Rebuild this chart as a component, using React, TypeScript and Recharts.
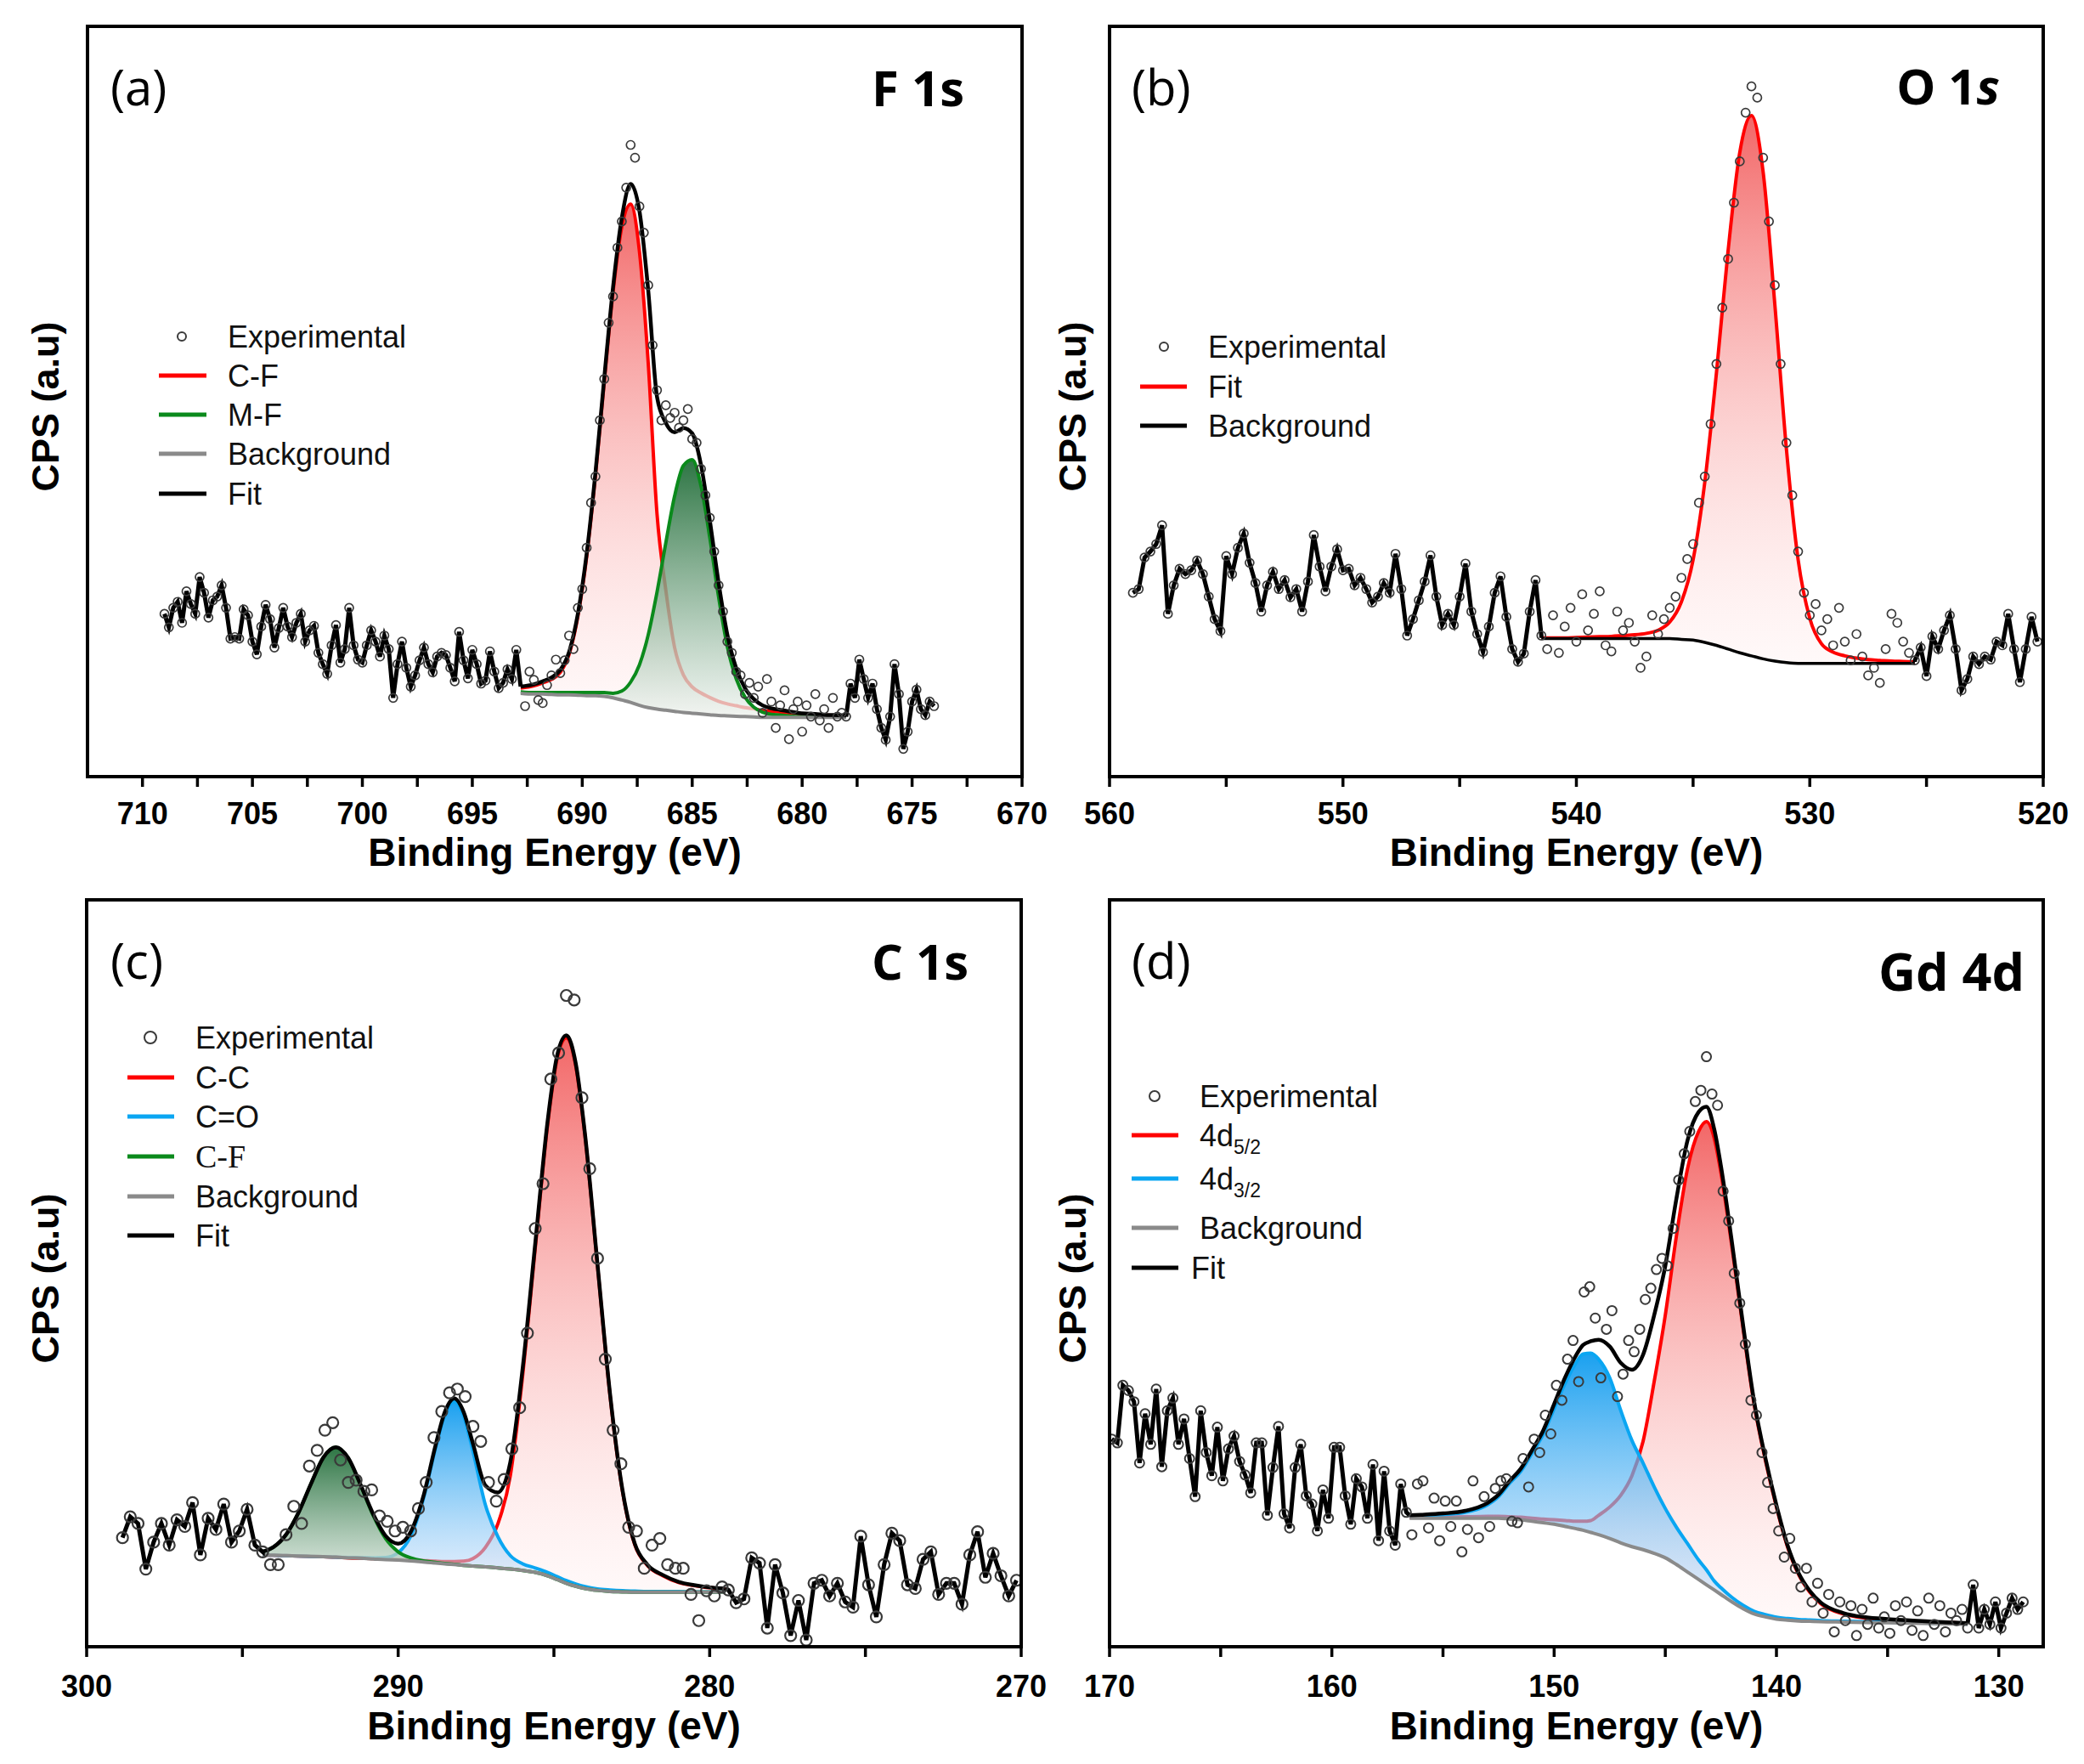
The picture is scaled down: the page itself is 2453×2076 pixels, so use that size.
import { Area, ComposedChart, Line, XAxis, YAxis } from "recharts";

const SANS = "'Liberation Sans', Arial, Helvetica, sans-serif";
const OPEN = "'Open Sans', 'Noto Sans', sans-serif";
const SERIF = "'Liberation Serif', 'Times New Roman', serif";

const RED = "#ff0000";
const GREEN = "#0b8a1c";
const BLUE = "#0aa6f2";
const GREY = "#8a8a8a";
const DOT = "#3a3a3a";

// ---------- (a) F 1s ----------
const aTicks = [710, 707.5, 705, 702.5, 700, 697.5, 695, 692.5, 690, 687.5, 685, 682.5, 680, 677.5, 675, 672.5, 670];
const aMajor = [710, 705, 700, 695, 690, 685, 680, 675, 670];
const aStep = 0.2;
const aLeftStart = 709.0;
const aLeft = [
  21.7, 19.9, 22.5, 23.3, 20.5, 24.7, 23.0, 21.7, 26.6, 24.5,
  21.2, 23.5, 24.0, 25.5, 22.5, 18.4, 18.6, 18.4, 22.3, 21.5,
  18.0, 16.3, 20.0, 22.9, 21.0, 17.2, 19.8, 22.5, 20.0, 18.6,
  20.5, 21.7, 18.0, 19.5, 20.1, 16.5, 15.0, 13.7, 17.5, 20.2,
  15.2, 17.0, 22.5, 17.5, 15.6, 15.2, 17.5, 19.5, 18.0, 16.0,
  18.8, 17.0, 10.5, 15.0, 18.0, 14.5, 12.0, 13.5, 15.5, 17.2,
  15.0, 13.9, 16.0, 16.5, 16.2, 14.5, 12.7, 19.3, 15.5, 13.1,
  16.9, 15.0, 12.4, 12.8, 16.7, 14.0, 11.8, 12.5, 14.3, 13.0,
  16.9,
];
const aMidStart = 692.6;
const aMid = [
  9.4, 14.0, 12.9, 10.2, 9.8, 12.2, 13.5, 15.6, 13.8, 15.5,
  18.8, 17.0, 22.5, 25.0, 30.5, 36.5, 40.0, 47.5, 53.0, 60.5,
  64.0, 70.5, 74.0, 78.5, 84.2, 82.5, 76.0, 72.5, 65.5, 57.5,
  51.5, 47.5, 49.5, 47.8, 48.5, 46.5, 47.5, 49.0, 45.0, 44.5,
  41.0, 37.5, 34.5, 30.0, 25.5, 22.0, 18.0, 16.5, 14.0, 13.5,
  11.0, 12.5, 10.5, 12.0, 8.5, 13.0, 10.0, 6.5, 9.5, 11.5,
  5.0, 9.0, 10.0, 6.0, 9.5, 8.0, 11.0, 7.5, 9.0, 6.5,
  10.5, 8.0, 8.5,
];
const aRightStart = 678.0;
const aRight = [8.0, 12.4, 10.5, 15.6, 13.0, 10.5, 12.4, 9.0, 6.5, 4.9, 8.0, 15.0, 11.0, 3.7, 6.0, 10.0, 11.6, 9.0, 8.2, 10.0, 9.4];
const aFitX = [692.8, 692.2, 691.8, 691.4, 691.0, 690.6, 690.2, 689.8, 689.4, 689.0, 688.6, 688.2, 687.8, 687.4, 687.0, 686.6, 686.2, 685.8, 685.4, 685.0, 684.6, 684.2, 683.8, 683.4, 683.0, 682.6, 682.2, 681.8, 681.4, 681.0, 680.6, 680.2, 679.8, 679.4, 679.0, 678.6, 678.0];
const aBg = [11.1, 11.0, 11.0, 10.95, 10.9, 10.9, 10.85, 10.8, 10.8, 10.7, 10.5, 10.2, 9.9, 9.5, 9.2, 9.0, 8.85, 8.7, 8.55, 8.45, 8.35, 8.25, 8.15, 8.1, 8.05, 8.0, 7.95, 7.9, 7.9, 7.9, 7.9, 7.9, 7.9, 7.9, 7.9, 7.9, 7.9];
const aCF = [0.7, 1.1, 1.5, 2.0, 3.0, 5.4, 10.5, 18.5, 29.3, 41.9, 54.1, 63.1, 66.4, 60.5, 45.9, 26.0, 16.0, 8.5, 5.0, 3.5, 2.8, 2.3, 1.9, 1.6, 1.4, 1.2, 1.1, 0.9, 0.8, 0.7, 0.6, 0.5, 0.4, 0.35, 0.3, 0.25, 0.2];
const aMF = [0.2, 0.2, 0.2, 0.25, 0.3, 0.3, 0.35, 0.4, 0.4, 0.5, 0.6, 1.2, 2.7, 5.4, 9.7, 15.6, 22.3, 28.7, 32.9, 33.8, 30.4, 23.6, 15.8, 9.2, 5.0, 2.6, 1.3, 0.7, 0.4, 0.3, 0.2, 0.1, 0.1, 0.1, 0.05, 0.05, 0.05];

// ---------- (b) O 1s ----------
const bTicks = [560, 555, 550, 545, 540, 535, 530, 525, 520];
const bMajor = [560, 550, 540, 530, 520];
const bStep = 0.25;
const bLeftStart = 559.0;
const bLeft = [
  24.5, 25.0, 29.2, 30.0, 31.0, 33.5, 21.7, 25.5, 27.7, 27.0,
  27.5, 28.8, 27.0, 24.0, 21.0, 19.4, 29.4, 27.0, 30.5, 32.4,
  28.5, 25.8, 22.0, 25.5, 27.3, 25.0, 26.2, 23.9, 25.0, 22.0,
  26.0, 32.2, 28.0, 24.7, 28.0, 30.3, 27.5, 27.7, 25.5, 26.5,
  25.0, 23.2, 24.0, 25.8, 24.5, 29.7, 25.0, 18.8, 21.0, 23.5,
  26.0, 29.5, 24.0, 20.2, 21.7, 20.2, 24.0, 28.4, 22.0, 19.0,
  16.6, 20.0, 24.5, 26.7, 21.3, 17.0, 15.3, 16.4, 22.0, 26.2,
  18.8,
];
const bMidStart = 541.25;
const bMid = [
  17.0, 21.5, 16.5, 20.0, 22.5, 18.0,
  24.3, 19.5, 21.7, 24.7, 17.5, 16.7, 22.0, 19.5,
  20.5, 18.0, 14.5, 16.0, 21.5, 19.0, 21.0, 22.5,
  24.0, 26.5, 29.0, 31.0, 36.5, 40.0, 47.0, 55.0,
  62.5, 69.0, 76.5, 82.0, 88.5, 92.0, 90.5, 82.5,
  74.0, 65.5, 55.0, 44.5, 37.5, 30.0, 24.5, 21.5,
  23.0, 19.5, 21.0, 17.5, 22.5, 18.0, 15.5, 19.0,
  16.0, 13.5, 14.5, 12.5, 17.0, 21.7, 20.5, 18.0,
  16.5,
];
const bRightStart = 525.5;
const bRight = [15.5, 17.2, 13.4, 18.7, 17.0, 19.5, 21.5, 17.0, 11.5, 13.0, 16.0, 15.0, 16.0, 15.6, 18.0, 17.5, 21.7, 17.0, 12.6, 17.0, 21.3, 18.0];
const bFitX = [541.5, 541.0, 540.5, 540.0, 539.5, 539.0, 538.5, 538.0, 537.5, 537.0, 536.5, 536.0, 535.5, 535.0, 534.5, 534.0, 533.5, 533.0, 532.5, 532.0, 531.5, 531.0, 530.5, 530.0, 529.5, 529.0, 528.5, 528.0, 527.5, 527.0, 526.5, 526.0, 525.5];
const bBg = [18.4, 18.4, 18.4, 18.4, 18.4, 18.4, 18.4, 18.4, 18.4, 18.4, 18.4, 18.4, 18.3, 18.2, 17.9, 17.5, 17.0, 16.5, 16.1, 15.7, 15.4, 15.2, 15.1, 15.1, 15.1, 15.1, 15.1, 15.1, 15.1, 15.1, 15.1, 15.1, 15.1];
const bPeak = [0.1, 0.1, 0.1, 0.15, 0.2, 0.25, 0.3, 0.4, 0.5, 0.7, 1.1, 2.2, 5.0, 10.7, 21.3, 36.3, 53.1, 66.7, 72.0, 64.9, 47.6, 28.4, 13.8, 6.0, 2.6, 1.5, 1.0, 0.7, 0.5, 0.4, 0.3, 0.25, 0.2];

// ---------- (c) C 1s ----------
const cTicks = [300, 295, 290, 285, 280, 275, 270];
const cMajor = [300, 290, 280, 270];
const cStep = 0.25;
const cLeftStart = 298.85;
const cLeft = [14.6, 17.4, 16.5, 10.4, 14.0, 16.5, 13.6, 17.0, 16.1, 19.3, 12.3, 17.2, 15.7, 19.1, 14.0, 15.5, 18.4, 13.6, 12.7];
const cMidStart = 294.1;
const cMid = [
  11.0, 11.0, 15.0, 18.8, 16.5, 24.2, 26.3, 29.0, 30.0, 25.0,
  22.0, 22.3, 20.8, 21.0, 17.5, 16.8, 15.5, 16.0, 15.5, 18.5,
  22.0, 28.0, 31.5, 34.0, 34.5, 33.5, 29.5, 27.5, 22.0, 19.5,
  22.4, 26.5, 32.0, 42.0, 56.0, 62.0, 76.0, 79.5, 87.2, 86.6,
  73.5, 64.0, 52.0, 38.5, 29.0, 24.5, 16.0, 15.5, 10.5, 13.6,
  14.5, 11.0, 10.5, 10.5, 7.0, 3.5, 7.5, 6.8, 8.0,
];
const cRightStart = 279.4;
const cRight = [7.6, 5.9, 6.4, 11.9, 11.2, 2.5, 11.0, 7.2, 1.5, 6.2, 0.9, 8.5, 8.9, 6.8, 8.5, 6.0, 5.3, 14.8, 8.3, 4.0, 11.0, 15.2, 14.2, 8.3, 7.8, 11.7, 12.7, 7.0, 8.5, 8.5, 5.7, 12.3, 15.4, 9.3, 12.5, 9.5, 6.8, 8.9];
const cFitX = [294.35, 294.0, 293.6, 293.2, 292.8, 292.4, 292.0, 291.6, 291.2, 290.8, 290.4, 290.0, 289.6, 289.2, 288.8, 288.5, 288.2, 287.9, 287.6, 287.2, 286.8, 286.4, 286.0, 285.6, 285.2, 284.9, 284.6, 284.3, 284.0, 283.6, 283.2, 282.8, 282.4, 282.0, 281.5, 281.0, 280.5, 280.0, 279.5];
const cBg = [12.3, 12.25, 12.2, 12.15, 12.1, 12.05, 12.0, 11.9, 11.85, 11.75, 11.65, 11.6, 11.5, 11.35, 11.2, 11.1, 11.0, 10.9, 10.8, 10.7, 10.55, 10.4, 10.2, 9.95, 9.5, 9.0, 8.5, 8.1, 7.8, 7.55, 7.4, 7.35, 7.3, 7.3, 7.3, 7.3, 7.3, 7.3, 7.3];
const cCC = [0, 0, 0, 0, 0, 0, 0, 0, 0, 0.05, 0.08, 0.1, 0.15, 0.2, 0.25, 0.3, 0.4, 0.55, 1.0, 2.6, 5.9, 12.5, 26.3, 43.4, 60.5, 69.7, 73.0, 69.7, 60.5, 43.4, 26.3, 13.5, 6.3, 3.6, 2.2, 1.3, 0.9, 0.6, 0.45];
const cCO = [0, 0, 0, 0, 0, 0, 0, 0.05, 0.08, 0.15, 0.3, 1.0, 3.3, 8.3, 15.4, 20.0, 21.8, 20.0, 15.4, 8.3, 4.2, 1.8, 0.9, 0.6, 0.45, 0.4, 0.35, 0.3, 0.25, 0.2, 0.2, 0.15, 0.15, 0.1, 0.1, 0.1, 0.05, 0.05, 0.05];
const cCF = [0.42, 1.1, 2.8, 5.8, 9.7, 13.3, 14.7, 13.3, 9.7, 5.8, 2.8, 1.1, 0.4, 0.15, 0.1, 0.05, 0.05, 0, 0, 0, 0, 0, 0, 0, 0, 0, 0, 0, 0, 0, 0, 0, 0, 0, 0, 0, 0, 0, 0];

// ---------- (d) Gd 4d ----------
const dTicks = [170, 165, 160, 155, 150, 145, 140, 135, 130];
const dMajor = [170, 160, 150, 140, 130];
const dStep = 0.25;
const dLeftStart = 169.9;
const dLeft = [
  27.8, 27.3, 35.0, 34.3, 32.8, 24.6, 31.2, 27.1, 34.5, 24.1,
  31.6, 33.3, 27.1, 30.5, 25.2, 20.1, 31.6, 26.0, 22.9, 29.4,
  22.2, 26.5, 28.2, 24.8, 23.0, 20.6, 27.3, 27.3, 17.6, 24.0,
  29.5, 17.8, 15.9, 24.0, 27.1, 20.2, 19.1, 15.5, 21.0, 17.2,
  26.7, 26.7, 20.2, 16.4, 22.5, 21.4, 17.2, 24.4, 14.2, 23.5,
  15.5, 13.6, 21.8, 18.0,
];
const dMidStart = 156.4;
const dMid = [
  15.0, 21.8, 22.2, 15.9, 19.9, 14.2, 19.5, 16.1, 19.5, 12.7,
  15.7, 22.2, 14.6, 20.1, 16.1, 21.2, 22.2, 22.5, 16.8, 16.6,
  25.2, 21.4, 27.8, 26.0, 31.0, 28.5, 35.0, 33.0, 38.5, 41.0,
  35.5, 47.5, 48.2, 44.0, 36.0, 42.5, 45.0, 33.5, 36.5, 41.0,
  39.5, 42.5, 46.5, 48.0, 50.5, 52.0, 51.0, 56.0, 62.5, 66.0,
  69.0, 73.0, 74.5, 79.0, 74.0, 72.5, 61.0, 57.0, 50.0, 46.0,
  40.5, 33.0, 31.0, 26.0, 22.0, 18.5, 15.5, 12.0, 14.5, 10.5,
  8.0, 10.5, 6.0, 8.5, 4.5, 7.0, 2.0, 6.0, 3.5, 5.5,
  1.5, 5.0, 3.0, 6.5, 2.5, 4.0, 1.8, 5.5, 3.5, 6.0,
  2.2, 4.8, 1.5, 6.5, 3.0, 5.5, 2.0, 4.5, 3.5, 5.0,
  2.5,
];
const dRightStart = 131.15;
const dRight = [8.3, 2.5, 5.0, 3.0, 6.0, 2.5, 4.5, 6.5, 5.0, 6.0];
const dFitX = [156.5, 156.0, 155.0, 154.0, 153.0, 152.5, 152.0, 151.5, 151.0, 150.5, 150.0, 149.5, 149.0, 148.7, 148.35, 148.0, 147.5, 147.0, 146.5, 146.0, 145.5, 145.0, 144.5, 144.0, 143.5, 143.15, 142.8, 142.5, 142.0, 141.5, 141.0, 140.5, 140.0, 139.5, 139.0, 138.5, 138.0, 137.0, 136.0, 135.0, 134.0, 133.0, 132.0, 131.4];
const dBg = [17.2, 17.2, 17.2, 17.2, 17.2, 17.2, 17.1, 17.0, 16.8, 16.6, 16.4, 16.1, 15.8, 15.6, 15.3, 15.0, 14.5, 13.9, 13.4, 13.0, 12.5, 11.9, 11.0, 10.0, 9.0, 8.3, 7.6, 7.0, 6.0, 5.1, 4.4, 4.0, 3.7, 3.55, 3.45, 3.4, 3.35, 3.3, 3.25, 3.2, 3.15, 3.1, 3.05, 3.0];
const d52 = [0.1, 0.12, 0.15, 0.2, 0.25, 0.27, 0.3, 0.35, 0.4, 0.5, 0.6, 0.8, 1.0, 1.2, 1.6, 2.6, 4.2, 6.4, 9.5, 14.5, 23.0, 32.5, 44.0, 54.0, 60.0, 62.0, 60.5, 56.5, 47.5, 37.5, 28.0, 21.0, 15.0, 9.8, 6.2, 3.9, 2.4, 1.1, 0.6, 0.4, 0.3, 0.2, 0.15, 0.1];
const d32 = [0.3, 0.35, 0.5, 0.8, 1.8, 2.9, 4.8, 6.5, 9.1, 11.8, 15.5, 19.2, 22.3, 23.6, 24.0, 23.5, 21.5, 17.7, 14.2, 11.6, 8.9, 6.6, 5.0, 3.8, 2.6, 2.0, 1.2, 0.9, 0.6, 0.45, 0.35, 0.3, 0.25, 0.22, 0.2, 0.18, 0.15, 0.12, 0.1, 0.1, 0.08, 0.06, 0.05, 0.05];

type Pt = { x: number; y: number };

function run(start: number, step: number, values: number[]): Pt[] {
  return values.map((y, i) => ({ x: Math.round((start - i * step) * 1000) / 1000, y }));
}

type Comp = { key: string; values: number[]; color: string; top: string; topOp: number; bottom: string; bottomOp: number; line: boolean };
type LegendRow = { y: number; kind: "dot" | "line"; color: string; label: string; sub?: string; serif?: boolean; dx?: number };

type PanelCfg = {
  id: string;
  frame: [number, number, number, number];
  domain: [number, number];
  ticks: number[];
  major: number[];
  tickDy: number;
  titleDy: number;
  left: Pt[];
  mid: Pt[];
  right: Pt[];
  fitX: number[];
  bg: number[];
  comps: Comp[];
  bgColor: string;
  envColor: string | null;
  dotR: number;
  dotW: number;
  tag: string;
  tagX: number;
  heading: string;
  headingItalicTail?: string;
  headingX: number;
  headingY: number;
  headingSize: number;
  yLabelX: number;
  legendX: [number, number, number, number];
  legendDotR: number;
  legend: LegendRow[];
};

const redFill = { top: "#ee3434", topOp: 0.75, bottom: "#ffd6d6", bottomOp: 0.15 };
const greenFill = { top: "#16662f", topOp: 0.9, bottom: "#eef3ef", bottomOp: 0.75 };
const blueFill = { top: "#0096ee", topOp: 0.9, bottom: "#d8e5fb", bottomOp: 0.5 };

const panels: PanelCfg[] = [
  {
    id: "a",
    frame: [103, 31, 1203, 914],
    domain: [670, 712.5],
    ticks: aTicks,
    major: aMajor,
    tickDy: 56,
    titleDy: 105,
    left: run(aLeftStart, aStep, aLeft),
    mid: run(aMidStart, aStep, aMid),
    right: run(aRightStart, aStep, aRight),
    fitX: aFitX,
    bg: aBg,
    comps: [
      { key: "cf", values: aCF, color: RED, ...redFill, line: true },
      { key: "mf", values: aMF, color: GREEN, ...greenFill, line: true },
    ],
    bgColor: GREY,
    envColor: "#000",
    dotR: 5,
    dotW: 1.7,
    tag: "(a)",
    tagX: 130,
    heading: "F 1s",
    headingX: 1135,
    headingY: 125,
    headingSize: 58,
    yLabelX: 69,
    legendX: [187, 243, 214, 268],
    legendDotR: 5,
    legend: [
      { y: 396, kind: "dot", color: DOT, label: "Experimental" },
      { y: 442, kind: "line", color: RED, label: "C-F" },
      { y: 488, kind: "line", color: GREEN, label: "M-F" },
      { y: 534, kind: "line", color: GREY, label: "Background" },
      { y: 581, kind: "line", color: "#000", label: "Fit" },
    ],
  },
  {
    id: "b",
    frame: [1306, 31, 2405, 914],
    domain: [520, 560],
    ticks: bTicks,
    major: bMajor,
    tickDy: 56,
    titleDy: 105,
    left: run(bLeftStart, bStep, bLeft),
    mid: run(bMidStart, bStep, bMid),
    right: run(bRightStart, bStep, bRight),
    fitX: bFitX,
    bg: bBg,
    comps: [{ key: "o", values: bPeak, color: RED, ...redFill, line: true }],
    bgColor: "#000",
    envColor: null,
    dotR: 5,
    dotW: 1.7,
    tag: "(b)",
    tagX: 1332,
    heading: "O 1",
    headingItalicTail: "s",
    headingX: 2354,
    headingY: 123,
    headingSize: 58,
    yLabelX: 1278,
    legendX: [1342, 1397, 1370, 1422],
    legendDotR: 5,
    legend: [
      { y: 408, kind: "dot", color: DOT, label: "Experimental" },
      { y: 455, kind: "line", color: RED, label: "Fit" },
      { y: 501, kind: "line", color: "#000", label: "Background" },
    ],
  },
  {
    id: "c",
    frame: [102, 1059, 1202, 1938],
    domain: [270, 300],
    ticks: cTicks,
    major: cMajor,
    tickDy: 59,
    titleDy: 109,
    left: run(cLeftStart, cStep, cLeft),
    mid: run(cMidStart, cStep, cMid),
    right: run(cRightStart, cStep, cRight),
    fitX: cFitX,
    bg: cBg,
    comps: [
      { key: "cc", values: cCC, color: RED, ...redFill, line: true },
      { key: "co", values: cCO, color: BLUE, ...blueFill, line: true },
      { key: "cf", values: cCF, color: GREEN, ...greenFill, line: true },
    ],
    bgColor: GREY,
    envColor: "#000",
    dotR: 6.5,
    dotW: 2.2,
    tag: "(c)",
    tagX: 130,
    heading: "C 1s",
    headingX: 1140,
    headingY: 1153,
    headingSize: 58,
    yLabelX: 69,
    legendX: [150, 205, 177, 230],
    legendDotR: 7,
    legend: [
      { y: 1221, kind: "dot", color: DOT, label: "Experimental" },
      { y: 1268, kind: "line", color: RED, label: "C-C" },
      { y: 1314, kind: "line", color: BLUE, label: "C=O" },
      { y: 1361, kind: "line", color: GREEN, label: "C-F", serif: true },
      { y: 1408, kind: "line", color: GREY, label: "Background" },
      { y: 1454, kind: "line", color: "#000", label: "Fit" },
    ],
  },
  {
    id: "d",
    frame: [1306, 1059, 2405, 1938],
    domain: [128, 170],
    ticks: dTicks,
    major: dMajor,
    tickDy: 59,
    titleDy: 109,
    left: run(dLeftStart, dStep, dLeft),
    mid: run(dMidStart, dStep, dMid),
    right: run(dRightStart, dStep, dRight),
    fitX: dFitX,
    bg: dBg,
    comps: [
      { key: "d52", values: d52, color: RED, ...redFill, line: true },
      { key: "d32", values: d32, color: BLUE, ...blueFill, line: true },
    ],
    bgColor: GREY,
    envColor: "#000",
    dotR: 5.5,
    dotW: 2,
    tag: "(d)",
    tagX: 1332,
    heading: "Gd 4d",
    headingX: 2383,
    headingY: 1166,
    headingSize: 61,
    yLabelX: 1278,
    legendX: [1332, 1387, 1359, 1412],
    legendDotR: 6,
    legend: [
      { y: 1290, kind: "dot", color: DOT, label: "Experimental" },
      { y: 1336, kind: "line", color: RED, label: "4d", sub: "5/2" },
      { y: 1387, kind: "line", color: BLUE, label: "4d", sub: "3/2" },
      { y: 1445, kind: "line", color: GREY, label: "Background" },
      { y: 1492, kind: "line", color: "#000", label: "Fit", dx: -10 },
    ],
  },
];

// chart padding around the frame: wide enough left/right for edge tick labels
const PAD_X = 60;
const PAD_Y = 12;
const AXIS_H = 80;

function renderTick(props: any, major: number[], dy: number) {
  const { x, y, payload } = props;
  const v = payload.value;
  return (
    <g>
      <line x1={x} x2={x} y1={y + 1} y2={y + 12} stroke="#000" strokeWidth={3.5} />
      {major.includes(v) ? (
        <text x={x} y={y + dy} textAnchor="middle" fontFamily={SANS} fontWeight={700} fontSize={36} fill="#000">
          {v}
        </text>
      ) : null}
    </g>
  );
}

function Panel({ cfg }: { cfg: PanelCfg }) {
  const [x0, y0, x1, y1] = cfg.frame;
  const fw = x1 - x0;
  const fh = y1 - y0;
  const env: Pt[] = cfg.fitX.map((x, i) => ({
    x,
    y: cfg.bg[i] + cfg.comps.reduce((s, c) => s + c.values[i], 0),
  }));
  const bgPts: Pt[] = cfg.fitX.map((x, i) => ({ x, y: cfg.bg[i] }));
  const exp = [...cfg.left, ...cfg.mid, ...cfg.right];
  const noiseL = [...cfg.left, env[0]];
  const noiseR = [env[env.length - 1], ...cfg.right];

  const compItems = cfg.comps.flatMap((c, k) => {
    const band = cfg.fitX.map((x, i) => ({ x, band: [cfg.bg[i], cfg.bg[i] + c.values[i]] }));
    const top = cfg.fitX.map((x, i) => ({ x, y: cfg.bg[i] + c.values[i] }));
    const items = [
      <Area
        key={`area-${c.key}`}
        data={band}
        dataKey="band"
        type="monotone"
        stroke="none"
        fill={`url(#g-${cfg.id}-${c.key})`}
        fillOpacity={1}
        isAnimationActive={false}
        activeDot={false}
        zIndex={110 + k * 2}
      />,
    ];
    if (c.line) {
      items.push(
        <Line
          key={`line-${c.key}`}
          data={top}
          dataKey="y"
          type="monotone"
          stroke={c.color}
          strokeWidth={4}
          dot={false}
          activeDot={false}
          isAnimationActive={false}
          zIndex={111 + k * 2}
        />
      );
    }
    return items;
  });

  return (
    <div style={{ position: "absolute", left: x0 - PAD_X, top: y0 - PAD_Y }}>
      <ComposedChart
        width={fw + 2 * PAD_X}
        height={fh + PAD_Y + AXIS_H}
        margin={{ top: PAD_Y, right: PAD_X, left: PAD_X, bottom: 0 }}
      >
        <defs>
          {cfg.comps.map((c) => (
            <linearGradient key={c.key} id={`g-${cfg.id}-${c.key}`} x1="0" y1="0" x2="0" y2="1">
              <stop offset="0%" stopColor={c.top} stopOpacity={c.topOp} />
              <stop offset="100%" stopColor={c.bottom} stopOpacity={c.bottomOp} />
            </linearGradient>
          ))}
        </defs>
        <XAxis
          type="number"
          dataKey="x"
          domain={cfg.domain}
          reversed
          allowDataOverflow
          ticks={cfg.ticks}
          interval={0}
          tick={(p: any) => renderTick(p, cfg.major, cfg.tickDy)}
          tickLine={false}
          axisLine={false}
          tickSize={0}
          tickMargin={0}
          height={AXIS_H}
        />
        <YAxis type="number" domain={[0, 100]} hide allowDataOverflow />
        <Line
          data={exp}
          dataKey="y"
          stroke="none"
          dot={{ r: cfg.dotR, stroke: DOT, strokeWidth: cfg.dotW, fill: "none" }}
          activeDot={false}
          isAnimationActive={false}
          zIndex={100}
        />
        {compItems}
        <Line
          data={bgPts}
          dataKey="y"
          type="monotone"
          stroke={cfg.bgColor}
          strokeWidth={cfg.bgColor === "#000" ? 3.5 : 4}
          dot={false}
          activeDot={false}
          isAnimationActive={false}
          zIndex={130}
        />
        {cfg.envColor ? (
          <Line
            data={env}
            dataKey="y"
            type="monotone"
            stroke={cfg.envColor}
            strokeWidth={4.5}
            dot={false}
            activeDot={false}
            isAnimationActive={false}
            zIndex={131}
          />
        ) : null}
        <Line
          data={noiseL}
          dataKey="y"
          stroke="#000"
          strokeWidth={5}
          dot={false}
          activeDot={false}
          isAnimationActive={false}
          zIndex={132}
        />
        <Line
          data={noiseR}
          dataKey="y"
          stroke="#000"
          strokeWidth={5}
          dot={false}
          activeDot={false}
          isAnimationActive={false}
          zIndex={133}
        />
      </ComposedChart>
    </div>
  );
}

function Annotations({ cfg }: { cfg: PanelCfg }) {
  const [x0, y0, x1, y1] = cfg.frame;
  const cx = (x0 + x1) / 2;
  const cy = (y0 + y1) / 2 + 6;
  const [l0, l1, dotX, textX] = cfg.legendX;
  return (
    <g>
      <rect x={x0} y={y0} width={x1 - x0} height={y1 - y0} fill="none" stroke="#000" strokeWidth={4} />
      <text x={cfg.tagX} y={y0 + 93} fontFamily={OPEN} fontSize={58} fill="#000">
        {cfg.tag}
      </text>
      <text x={cfg.headingX} y={cfg.headingY} textAnchor="end" fontFamily={OPEN} fontWeight={700} fontSize={cfg.headingSize} fill="#000">
        {cfg.heading}
        {cfg.headingItalicTail ? <tspan fontStyle="italic">{cfg.headingItalicTail}</tspan> : null}
      </text>
      <text x={cx} y={y1 + cfg.titleDy} textAnchor="middle" fontFamily={SANS} fontWeight={700} fontSize={46} fill="#000">
        Binding Energy (eV)
      </text>
      <text
        x={cfg.yLabelX}
        y={cy}
        transform={`rotate(-90 ${cfg.yLabelX} ${cy})`}
        textAnchor="middle"
        fontFamily={SANS}
        fontWeight={700}
        fontSize={45}
        fill="#000"
      >
        CPS (a.u)
      </text>
      {cfg.legend.map((row, i) => (
        <g key={i}>
          {row.kind === "dot" ? (
            <circle cx={dotX} cy={row.y} r={cfg.legendDotR} fill="none" stroke={row.color} strokeWidth={2} />
          ) : (
            <line x1={l0} x2={l1} y1={row.y} y2={row.y} stroke={row.color} strokeWidth={5} />
          )}
          <text
            x={textX + (row.dx ?? 0)}
            y={row.y + 13}
            fontFamily={row.serif ? SERIF : SANS}
            fontSize={row.serif ? 38 : 36}
            fill="#111"
          >
            {row.label}
            {row.sub ? (
              <tspan fontSize={23} dy={9}>
                {row.sub}
              </tspan>
            ) : null}
          </text>
        </g>
      ))}
    </g>
  );
}

export default function App() {
  return (
    <div
      style={{
        position: "absolute",
        left: 0,
        top: 0,
        width: 2453,
        height: 2076,
        background: "#fff",
        overflow: "hidden",
      }}
    >
      {panels.map((p) => (
        <Panel key={p.id} cfg={p} />
      ))}
      <svg width={2453} height={2076} style={{ position: "absolute", left: 0, top: 0, pointerEvents: "none" }}>
        {panels.map((p) => (
          <Annotations key={p.id} cfg={p} />
        ))}
      </svg>
    </div>
  );
}
